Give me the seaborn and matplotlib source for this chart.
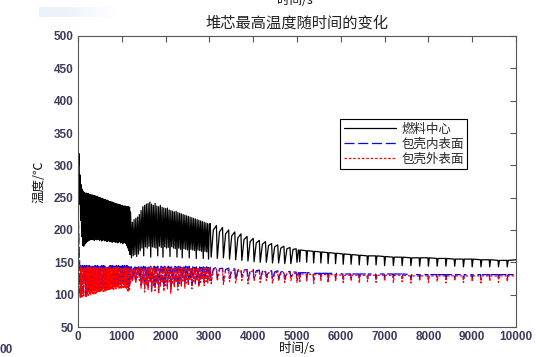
import matplotlib
matplotlib.use("Agg")
import matplotlib.pyplot as plt
from matplotlib.colors import LinearSegmentedColormap
import seaborn as sns

# ---- data (time in s, temperature in C) ----
# start-up phase 0-1200 s, very dense oscillation
t_early = [0, 12, 24, 36, 48, 60, 72, 84,
           96, 108, 120, 132, 144, 156, 168, 180,
           192, 204, 216, 228, 240, 252, 264, 276,
           288, 300, 312, 324, 336, 348, 360, 372,
           384, 396, 408, 420, 432, 444, 456, 468,
           480, 492, 504, 516, 528, 540, 552, 564,
           576, 588, 600, 612, 624, 636, 648, 660,
           672, 684, 696, 708, 720, 732, 744, 756,
           768, 780, 792, 804, 816, 828, 840, 852,
           864, 876, 888, 900, 912, 924, 936, 948,
           960, 972, 984, 996, 1008, 1020, 1032, 1044,
           1056, 1068, 1080, 1092, 1104, 1116, 1128, 1140,
           1152, 1164, 1176, 1188, 1200]
fuel_early = [290, 300, 318, 240, 285, 215, 270, 190,
              263, 176, 260, 175, 258, 178, 257, 180,
              257, 182, 256, 183, 256, 184, 255, 185,
              255, 186, 254, 185, 254, 186, 253, 184,
              253, 186, 252, 185, 252, 185, 251, 186,
              250, 184, 250, 185, 249, 183, 249, 184,
              248, 185, 247, 183, 247, 184, 246, 182,
              246, 183, 245, 184, 244, 182, 244, 183,
              243, 181, 243, 182, 242, 183, 241, 181,
              241, 182, 240, 180, 240, 181, 239, 182,
              239, 180, 238, 181, 238, 179, 237, 180,
              237, 181, 237, 179, 236, 176, 236, 172,
              236, 168, 235, 162, 228]
clad_in_early = [238, 210, 175, 152, 102, 145, 101, 144,
                 103, 145, 104, 144, 124, 145, 102, 144,
                 103, 145, 104, 144, 105, 145, 106, 144,
                 106, 145, 107, 144, 108, 145, 107, 144,
                 109, 145, 108, 144, 110, 145, 109, 144,
                 110, 145, 111, 144, 110, 145, 112, 144,
                 111, 145, 112, 144, 110, 145, 113, 144,
                 112, 145, 114, 144, 113, 145, 115, 144,
                 114, 145, 115, 144, 114, 145, 116, 144,
                 115, 145, 116, 144, 117, 145, 116, 144,
                 117, 145, 116, 144, 118, 145, 117, 144,
                 118, 145, 117, 144, 116, 145, 112, 144,
                 110, 144, 114, 143, 124]
clad_out_early = [235, 205, 170, 148, 96, 143, 95, 142,
                  97, 141, 98, 143, 118, 142, 96, 143,
                  97, 142, 98, 141, 99, 142, 100, 143,
                  100, 142, 101, 141, 102, 142, 101, 143,
                  103, 142, 102, 141, 104, 142, 103, 141,
                  104, 142, 105, 141, 104, 142, 106, 141,
                  105, 142, 106, 141, 104, 142, 107, 141,
                  106, 142, 108, 141, 107, 142, 109, 141,
                  108, 142, 109, 141, 108, 142, 110, 141,
                  109, 142, 110, 141, 111, 142, 110, 141,
                  111, 142, 110, 141, 112, 142, 111, 141,
                  112, 142, 111, 141, 110, 142, 106, 141,
                  104, 141, 108, 140, 118]

# 1200-3000 s, tight spiky cycles
t_mid1 = [1220, 1240, 1260, 1280, 1300, 1320, 1340, 1360, 1380, 1400,
          1420, 1440, 1460, 1480, 1500, 1520, 1540, 1560, 1580, 1600,
          1620, 1640, 1660, 1680, 1700, 1720, 1740, 1760, 1780, 1800,
          1820, 1840, 1860, 1880, 1900, 1920, 1940, 1960, 1980, 2000,
          2020, 2040, 2060, 2080, 2100, 2120, 2140, 2160, 2180, 2200,
          2220, 2240, 2260, 2280, 2300, 2320, 2340, 2360, 2380, 2400,
          2420, 2440, 2460, 2480, 2500, 2520, 2540, 2560, 2580, 2600,
          2620, 2640, 2660, 2680, 2700, 2720, 2740, 2760, 2780, 2800,
          2820, 2840, 2860, 2880, 2900, 2920, 2940, 2960, 2980, 3000]
fuel_mid1 = [157, 212, 160, 216, 162, 218, 159, 220, 163, 224,
             168, 230, 172, 236, 160, 238, 174, 240, 172, 241,
             175, 243, 158, 240, 174, 238, 173, 241, 172, 237,
             160, 236, 175, 238, 173, 235, 158, 234, 174, 233,
             172, 234, 173, 231, 159, 230, 174, 229, 172, 228,
             171, 229, 158, 227, 172, 226, 170, 225, 157, 224,
             171, 223, 170, 222, 169, 221, 157, 220, 170, 219,
             169, 218, 168, 217, 156, 216, 169, 215, 168, 214,
             167, 213, 156, 212, 167, 211, 166, 210, 155, 209]
clad_in_mid1 = [143, 125, 142, 129, 143, 123, 142, 131, 143, 127,
                144, 115, 143, 123, 144, 109, 143, 120, 144, 113,
                143, 124, 144, 108, 143, 118, 144, 111, 143, 122,
                144, 106, 143, 117, 144, 123, 143, 110, 144, 119,
                143, 114, 144, 125, 143, 107, 144, 121, 143, 116,
                144, 124, 143, 112, 144, 122, 143, 117, 144, 126,
                143, 115, 144, 123, 143, 119, 144, 127, 143, 114,
                143, 125, 142, 120, 143, 126, 142, 117, 143, 124,
                142, 128, 143, 119, 142, 125, 143, 122, 142, 127]
clad_out_mid1 = [141, 120, 140, 124, 141, 118, 140, 126, 141, 122,
                 142, 110, 141, 118, 142, 104, 141, 115, 142, 108,
                 141, 119, 142, 103, 141, 113, 142, 106, 141, 117,
                 142, 101, 141, 112, 142, 118, 141, 105, 142, 114,
                 141, 109, 142, 120, 141, 102, 142, 116, 141, 111,
                 142, 119, 141, 107, 142, 117, 141, 112, 142, 121,
                 141, 110, 142, 118, 141, 114, 142, 122, 141, 109,
                 141, 120, 140, 115, 141, 121, 140, 112, 141, 119,
                 140, 123, 141, 114, 140, 120, 141, 117, 140, 122]

# 3000-5000 s, slower cycles (peak, bottom of drop, recovery)
t_mid2 = [3020, 3040, 3090, 3160, 3180, 3230, 3300, 3320, 3370,
          3440, 3460, 3510, 3580, 3600, 3650, 3720, 3740, 3790,
          3860, 3880, 3930, 4000, 4020, 4070, 4140, 4160, 4210,
          4280, 4300, 4350, 4420, 4440, 4490, 4560, 4580, 4630,
          4700, 4720, 4770, 4840, 4860, 4910, 4980, 5000, 5030]
fuel_mid2 = [210, 158, 200, 207, 156, 197, 204, 157, 194,
             200, 155, 191, 197, 154, 188, 194, 153, 185,
             190, 152, 182, 187, 151, 180, 184, 150, 178,
             182, 150, 176, 179, 149, 174, 177, 149, 172,
             175, 148, 171, 173, 148, 170, 171, 150, 169]
clad_in_mid2 = [142, 122, 140, 142, 126, 140, 141, 121, 139,
                141, 125, 139, 140, 123, 138, 140, 127, 138,
                139, 122, 137, 139, 126, 137, 138, 124, 136,
                138, 127, 136, 137, 123, 135, 137, 126, 135,
                136, 124, 135, 136, 127, 135, 135, 124, 134]
clad_out_mid2 = [140, 117, 138, 140, 121, 138, 139, 116, 137,
                 139, 120, 137, 138, 118, 136, 138, 122, 136,
                 137, 117, 135, 137, 121, 135, 136, 119, 134,
                 136, 122, 134, 135, 118, 133, 135, 121, 133,
                 134, 119, 133, 134, 122, 133, 133, 119, 132]

# 5000-10000 s, near-steady with periodic dips
t_late = [5050, 5060, 5080, 5210, 5220, 5240, 5370, 5380, 5400, 5535, 5545, 5565,
          5700, 5710, 5730, 5870, 5880, 5900, 6045, 6055, 6075, 6225, 6235, 6255,
          6410, 6420, 6440, 6600, 6610, 6630, 6795, 6805, 6825, 6990, 7000, 7020,
          7190, 7200, 7220, 7390, 7400, 7420, 7590, 7600, 7620, 7790, 7800, 7820,
          7990, 8000, 8020, 8190, 8200, 8220, 8390, 8400, 8420, 8590, 8600, 8620,
          8790, 8800, 8820, 8990, 9000, 9020, 9190, 9200, 9220, 9390, 9400, 9420,
          9590, 9600, 9620, 9790, 9800, 9820, 10000]
fuel_late = [169, 151, 169, 168, 150, 168, 167, 149, 167, 166, 149, 166,
             165, 148, 165, 164, 148, 164, 163, 147, 163, 162, 147, 162,
             161, 146, 161, 160, 146, 160, 160, 146, 160, 159, 145, 159,
             158, 145, 158, 158, 145, 158, 157, 145, 157, 157, 144, 157,
             157, 144, 157, 156, 144, 156, 156, 144, 156, 155, 144, 155,
             155, 143, 155, 155, 143, 155, 154, 143, 154, 154, 143, 154,
             153, 143, 153, 153, 143, 153, 154]
clad_in_late = [134, 123, 134, 134, 125, 134, 133, 122, 133, 133, 126, 133,
                133, 123, 133, 133, 125, 133, 132, 124, 132, 132, 126, 132,
                132, 123, 132, 132, 125, 132, 132, 124, 132, 132, 126, 132,
                132, 124, 132, 132, 125, 132, 131, 123, 131, 131, 126, 131,
                131, 124, 131, 131, 125, 131, 131, 123, 131, 131, 126, 131,
                131, 124, 131, 131, 125, 131, 131, 123, 131, 131, 126, 131,
                131, 124, 131, 131, 125, 131, 131]
clad_out_late = [132, 118, 132, 132, 120, 132, 131, 117, 131, 131, 121, 131,
                 131, 118, 131, 131, 120, 131, 130, 119, 130, 130, 121, 130,
                 130, 118, 130, 130, 120, 130, 130, 119, 130, 130, 121, 130,
                 130, 119, 130, 130, 120, 130, 129, 118, 129, 129, 121, 129,
                 129, 119, 129, 129, 120, 129, 129, 118, 129, 129, 121, 129,
                 129, 119, 129, 129, 120, 129, 129, 118, 129, 129, 121, 129,
                 129, 119, 129, 129, 120, 129, 129]

time = t_early + t_mid1 + t_mid2 + t_late
fuel = fuel_early + fuel_mid1 + fuel_mid2 + fuel_late
clad_in = clad_in_early + clad_in_mid1 + clad_in_mid2 + clad_in_late
clad_out = clad_out_early + clad_out_mid1 + clad_out_mid2 + clad_out_late

x_ticks = list(range(0, 10001, 1000))
y_ticks = list(range(50, 501, 50))

# ---- style ----
sns.set_theme(style="white")
plt.rcParams['font.family'] = ['Noto Sans CJK SC', 'DejaVu Sans']
plt.rcParams['axes.unicode_minus'] = False
plt.rcParams['path.simplify'] = False   # keep every spike of the dense signals

tick_col = '#3c3c5a'

fig = plt.figure(figsize=(5.37, 3.57), dpi=100)
ax = fig.add_axes([78 / 537, 30 / 357, 438 / 537, 291 / 357])

sns.lineplot(x=time, y=fuel, ax=ax, color='black', lw=0.9,
             estimator=None, sort=False, label='燃料中心')
sns.lineplot(x=time, y=clad_in, ax=ax, color='blue', lw=0.9, linestyle=(0, (8, 3)),
             estimator=None, sort=False, label='包壳内表面')
sns.lineplot(x=time, y=clad_out, ax=ax, color='red', lw=0.9, linestyle=(0, (2, 1.5)),
             estimator=None, sort=False, label='包壳外表面')

ax.set_xlim(0, 10000)
ax.set_ylim(50, 500)
ax.set_xticks(x_ticks)
ax.set_yticks(y_ticks)
ax.tick_params(direction='in', top=True, right=True, length=4, width=0.8,
               color='#555555', labelcolor=tick_col, labelsize=8.5, pad=3)
for lab in ax.get_xticklabels() + ax.get_yticklabels():
    lab.set_fontfamily('Liberation Sans')
    lab.set_fontweight('bold')
for sp in ax.spines.values():
    sp.set_color('#555555')
    sp.set_linewidth(0.8)

ax.set_title('堆芯最高温度随时间的变化', fontsize=11, pad=6, color='#222222')
ax.set_xlabel('时间/s', fontsize=9, color='#111111')
ax.set_ylabel('温度/℃', fontsize=9, color='#111111')
ax.xaxis.set_label_coords(0.5, -0.052)
ax.yaxis.set_label_coords(-0.075, 0.5)

leg = ax.legend(loc='upper left', bbox_to_anchor=(0.598, 0.715), frameon=True,
                fancybox=False, edgecolor='black', framealpha=1, fontsize=9,
                handlelength=4.2, labelspacing=0.15, borderpad=0.3,
                handletextpad=0.4, borderaxespad=0)
leg.get_frame().set_linewidth(0.8)

# leftovers of the screenshot: cut-off label at the top, stray tick text, faint bar
fig.text(295 / 537, 1 - 1 / 357, '时间/s', ha='center', va='center', fontsize=9,
         color='#111111')
fig.text(0, 1 - 350 / 357, '00', ha='left', va='center', fontsize=8.5,
         fontfamily='Liberation Sans', fontweight='bold', color=tick_col)
gax = fig.add_axes([39 / 537, 1 - 17 / 357, 105 / 537, 10 / 357])
fade = LinearSegmentedColormap.from_list('fade', ['#edf2fa', '#ffffff'])
gax.imshow([[0, 1]], cmap=fade, aspect='auto', interpolation='bilinear')
gax.axis('off')

fig.savefig('out.png', dpi=100)
